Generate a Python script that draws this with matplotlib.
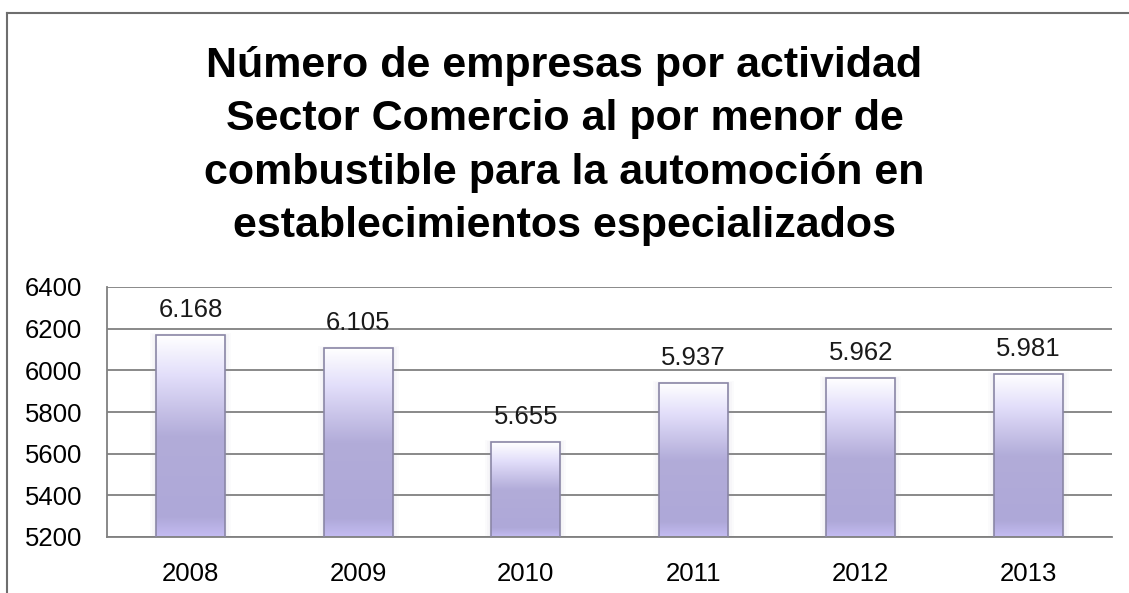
import matplotlib.pyplot as plt
import numpy as np
from matplotlib.colors import LinearSegmentedColormap
from matplotlib.lines import Line2D

# Datos del gráfico
years = ['2008', '2009', '2010', '2011', '2012', '2013']
companies = [6168, 6105, 5655, 5937, 5962, 5981]
value_labels = ['6.168', '6.105', '5.655', '5.937', '5.962', '5.981']
y_ticks = [5200, 5400, 5600, 5800, 6000, 6200, 6400]

title = ('Número de empresas por actividad\n'
         'Sector Comercio al por menor de\n'
         'combustible para la automoción en\n'
         'establecimientos especializados')

plt.rcParams['font.family'] = ['Liberation Sans', 'DejaVu Sans']

fig = plt.figure(figsize=(11.29, 5.93), dpi=100)
ax = fig.add_axes([107 / 1129, 1 - 537 / 593, 1005 / 1129, 250 / 593])

# Degradado vertical (blanco arriba, lavanda abajo)
grad_cmap = LinearSegmentedColormap.from_list(
    'lav', [(0.0, '#c4bcf2'), (0.1, '#aea8d8'), (0.5, '#b2acd9'),
            (0.8, '#e2defa'), (1.0, '#ffffff')])
gradient = np.linspace(0, 1, 256).reshape(-1, 1)

x = np.arange(len(years))
bar_width = 0.41
bars = ax.bar(x, companies, width=bar_width, bottom=0, color='none',
              edgecolor='#8a86a6', linewidth=1.2, zorder=3)

ymin = y_ticks[0]
for bar in bars:
    x0 = bar.get_x()
    x1 = x0 + bar.get_width()
    top = bar.get_height()
    # sombra suave
    for k, a in enumerate([0.05, 0.04, 0.03]):
        d = 0.012 * (k + 1)
        ax.add_patch(plt.Rectangle((x0 - d, ymin), (x1 - x0) + 2 * d,
                                   top - ymin + d * 300, color='#9a96b8',
                                   alpha=a, lw=0, zorder=2))
    im = ax.imshow(gradient, extent=[x0, x1, ymin, top], origin='lower',
                   cmap=grad_cmap, aspect='auto', zorder=2.5)
    im.set_clip_path(bar)

for xi, val, lab in zip(x, companies, value_labels):
    ax.text(xi, val + 120, lab, ha='center', va='center', fontsize=18.5,
            color='#1a1a1a', zorder=4)

ax.set_xlim(-0.5, len(years) - 0.5)
ax.set_ylim(y_ticks[0], y_ticks[-1])
ax.set_yticks(y_ticks)
ax.set_xticks(x)
ax.set_xticklabels(years)
ax.tick_params(axis='both', length=0, labelsize=18.5, colors='#000000')
ax.tick_params(axis='y', pad=18)
ax.tick_params(axis='x', pad=18)
ax.yaxis.grid(True, color='#808080', linewidth=1.3, zorder=0)
ax.set_axisbelow(True)
for side in ['top', 'right']:
    ax.spines[side].set_visible(False)
ax.spines['left'].set_color('#808080')
ax.spines['bottom'].set_color('#808080')
ax.spines['left'].set_linewidth(1.3)
ax.spines['bottom'].set_linewidth(1.3)

fig.text(0.5, 1 - 146 / 593, title, ha='center', va='center', fontsize=31,
         fontweight='bold', linespacing=1.44)

# Marco exterior del gráfico
fig.add_artist(Line2D([7 / 1129, 7 / 1129], [0, 1 - 13 / 593],
                      color='#6e6e6e', lw=1.5, transform=fig.transFigure))
fig.add_artist(Line2D([7 / 1129, 1], [1 - 13 / 593, 1 - 13 / 593],
                      color='#6e6e6e', lw=1.5, transform=fig.transFigure))

fig.savefig('out.png', dpi=100)
